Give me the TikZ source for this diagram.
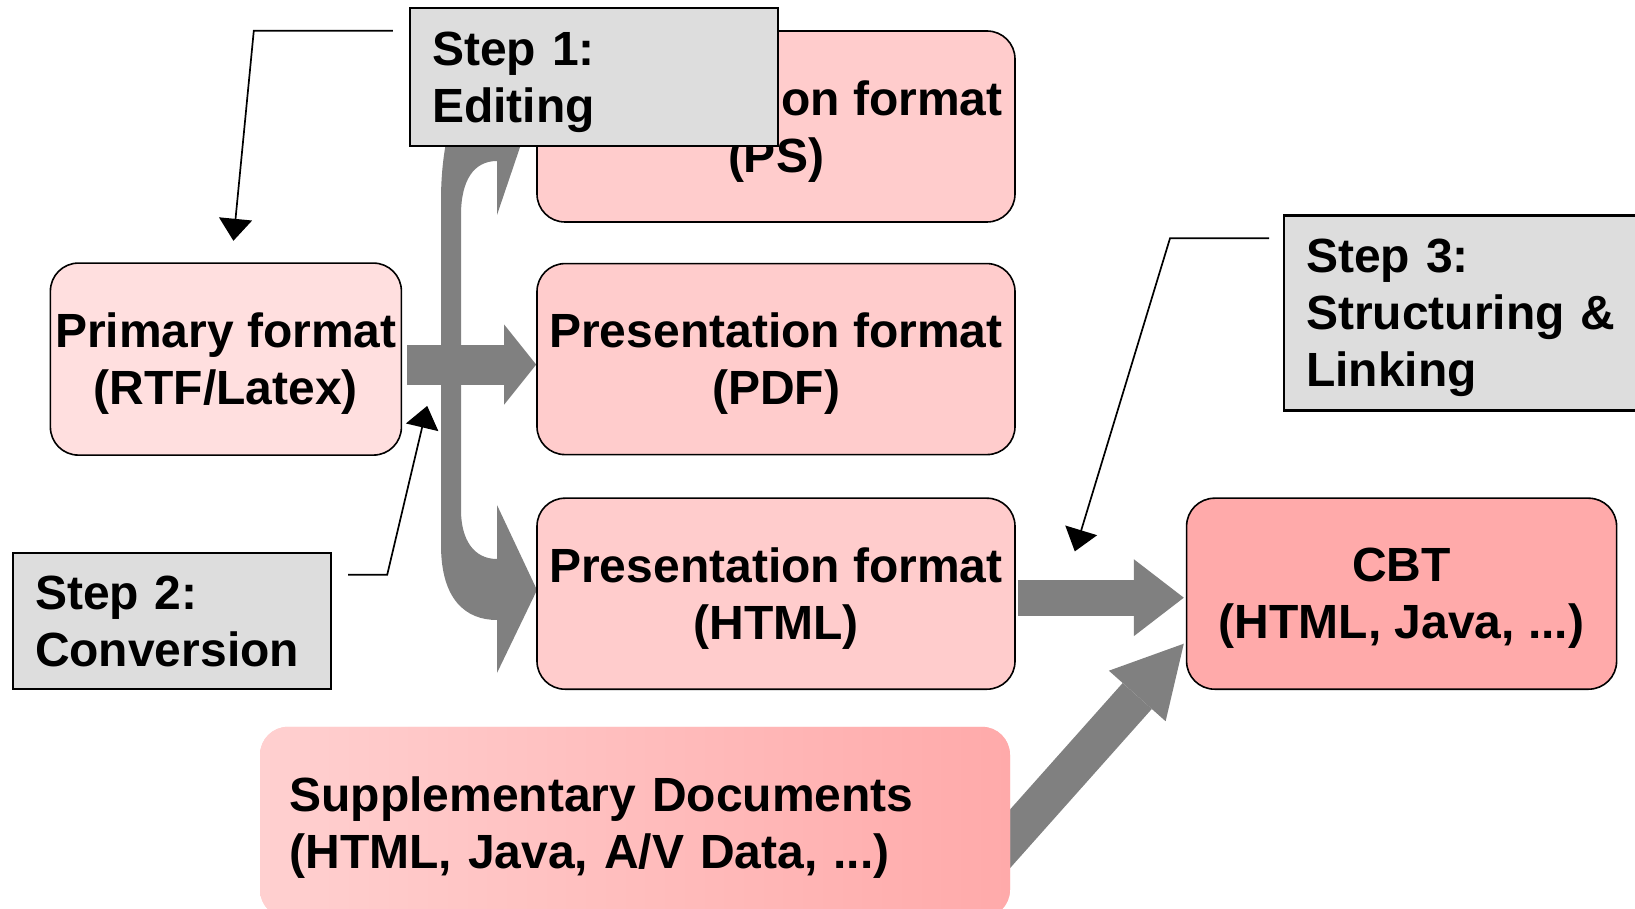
\documentclass[tikz,border=0pt]{standalone}
\usepackage{fontspec}
\setmainfont{Liberation Sans}
\usetikzlibrary{arrows.meta, positioning, calc, backgrounds}
\definecolor{FormatPink}{HTML}{FFCCCC}
\definecolor{PrimaryPink}{HTML}{FFDFDF}
\definecolor{TargetPink}{HTML}{FFAAAA}
\definecolor{SuppLeft}{HTML}{FFD0D0}
\definecolor{StepGray}{HTML}{DDDDDD}
\definecolor{FlowGray}{HTML}{808080}

\begin{document}
\begin{tikzpicture}[x=0.5pt, y=-0.5pt, node distance=20pt and 20pt,
        box/.style={rectangle, draw=black, line width=0.8pt, fill=FormatPink, rounded corners=14pt, align=center, inner sep=0pt, text depth=0pt, minimum width=239pt, minimum height=95.5pt, font=\fontsize{24pt}{28.5pt}\selectfont\bfseries},
        stepbox/.style={rectangle, draw=black, line width=1.2pt, fill=StepGray, align=left, inner xsep=11pt, inner ysep=0pt, text depth=28.5pt, font=\fontsize{24pt}{28.5pt}\selectfont\bfseries},
        fat/.style n args={3}{draw=FlowGray, line width=#1, -{Triangle[length=#2, width=#3, line width=0pt]}},
        callout/.style={-{Triangle[length=11pt, width=16.5pt]}, line width=0.85pt}]

        \useasboundingbox (0,0) rectangle (1635,909);

        \node[box] (ps) at (776,126.5) {Presentation format\\(PS)};
        \node[box, below=of ps] (pdf) {Presentation format\\(PDF)};
        \node[box, below=21pt of pdf] (html) {Presentation format\\(HTML)};
        \node[box, left=67pt of pdf, fill=PrimaryPink, minimum width=175.5pt, minimum height=96pt] (prim) {Primary format\\(RTF/Latex)};
        \node[box, right=85pt of html, fill=TargetPink, minimum width=215pt] (cbt) {CBT\\(HTML, Java, ...)};
        \node[box, below=18pt of html.south east, anchor=north east, xshift=-2.5pt, draw=none, left color=SuppLeft, right color=TargetPink, align=left, text width=345.5pt, inner xsep=14.75pt, text depth=28.5pt] (supp) {Supplementary Documents\\(HTML, Java, A/V Data, ...)};

        \begin{scope}[on background layer]
            % editing / conversion branch
            \fill[FlowGray] (441,545) -- (441,200) .. controls (441,120) and (468,60) .. (497,60)
                -- (497,10) -- (536,100) -- (497,215) -- (497,161)
                .. controls (474,161) and (461,180) .. (461,215) -- (461,510)
                .. controls (461,540) and (474,559) .. (497,559)
                -- (497,505) -- (537,590) -- (497,673) -- (497,620)
                .. controls (466,620) and (441,600) .. (441,545) -- cycle;
            \draw[fat={20pt}{16pt}{40pt}] ($(prim.east)+(5,5.5)$) -- ($(pdf.west)+(0,5.5)$);
            \draw[fat={18pt}{25pt}{38.5pt}] ($(html.east)+(2,4)$) -- ($(cbt.west)+(-2,4)$);
            \draw[fat={19.5pt}{35pt}{38pt}] ($(supp.east)+(-19,37)$) -- ($(cbt.west)+(-2,50)$);
        \end{scope}

        \node[stepbox, text width=162pt, minimum height=69pt] (step1) at (594,77) {Step 1:\\Editing};
        \node[stepbox, text width=137pt, minimum height=68pt] (step2) at (172,621) {Step 2:\\Conversion};
        \node[stepbox, text width=166pt, minimum height=97.5pt, text depth=57pt, anchor=west] (step3) at (1283,313) {Step 3:\\Structuring \&\\Linking};

        \draw[callout] ($(step1.north west)+(-16,24)$) -- ++(-139,0) -- ($(prim.north)+(7.5,-21.5)$);
        \draw[callout] ($(step2.north east)+(16,23)$) -- ++(39,0) -- ($(prim.south east)+(25,-50)$);
        \draw[callout] ($(step3.north west)+(-14,24)$) -- ++(-99,0) -- ($(html.north east)+(59,54)$);
    \end{tikzpicture}
\end{document}
